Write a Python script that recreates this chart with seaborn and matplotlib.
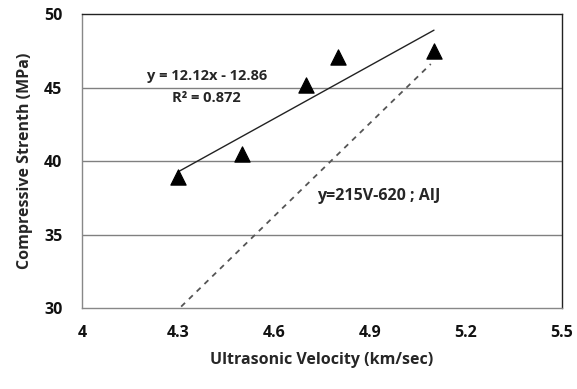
import seaborn as sns
import numpy as np
import matplotlib.pyplot as plt
import pandas as pd

# measured points
velocity = [4.3, 4.5, 4.7, 4.8, 5.1]
strength = [38.9, 40.5, 45.2, 47.1, 47.5]

# AIJ reference line
aij_v = [4.31, 5.09]
aij_fc = [30.1, 46.6]

x_ticks = [4, 4.3, 4.6, 4.9, 5.2, 5.5]
y_ticks = [30, 35, 40, 45, 50]

df = pd.DataFrame({"v": velocity, "fc": strength})
aij = pd.DataFrame({"v": aij_v, "fc": aij_fc})

sns.set_theme(style="white")
plt.rcParams['font.family'] = ['Open Sans', 'DejaVu Sans']

fig, ax = plt.subplots(figsize=(5.77, 3.89), dpi=100)
fig.subplots_adjust(left=0.142, right=0.974, top=0.964, bottom=0.208)

for yv in y_ticks[1:-1]:
    ax.axhline(yv, color="#808080", lw=1, zorder=0)

sns.regplot(data=df, x="v", y="fc", ax=ax, scatter=False, ci=None, truncate=True,
            line_kws=dict(color="#222222", lw=1))
sns.lineplot(data=aij, x="v", y="fc", ax=ax, color="#555555", lw=1.3,
             linestyle=(0, (3, 3)))
sns.scatterplot(data=df, x="v", y="fc", ax=ax, marker="^", s=120,
                color="black", edgecolor="black", zorder=5)

ax.set_xlim(4, 5.5)
ax.set_ylim(30, 50)
ax.set_xticks(x_ticks)
ax.set_xticklabels(["4", "4.3", "4.6", "4.9", "5.2", "5.5"])
ax.set_yticks(y_ticks)
ax.tick_params(axis="both", length=0, labelsize=11.5, colors="#111111")
ax.tick_params(axis="x", pad=12)
ax.tick_params(axis="y", pad=14)
for lab in ax.get_xticklabels() + ax.get_yticklabels():
    lab.set_fontweight("bold")

ax.set_xlabel("Ultrasonic Velocity (km/sec)", fontsize=11.5, fontweight="bold",
              labelpad=8)
ax.set_ylabel("Compressive Strenth (MPa)", fontsize=11.5, fontweight="bold",
              labelpad=8)

for s in ["left", "bottom"]:
    ax.spines[s].set_color("#888888")
for s in ["top", "right"]:
    ax.spines[s].set_color("#222222")
for s in ax.spines.values():
    s.set_linewidth(1)

ax.text(4.39, 45.8, "y = 12.12x - 12.86", ha="center", va="center",
        fontsize=10.5, fontweight="bold")
ax.text(4.39, 44.3, "R² = 0.872", ha="center", va="center",
        fontsize=10.5, fontweight="bold")
ax.text(4.735, 37.6, "y=215V-620 ; AIJ", ha="left", va="center",
        fontsize=11.5, fontweight="bold")

fig.savefig("out.png", dpi=100)
